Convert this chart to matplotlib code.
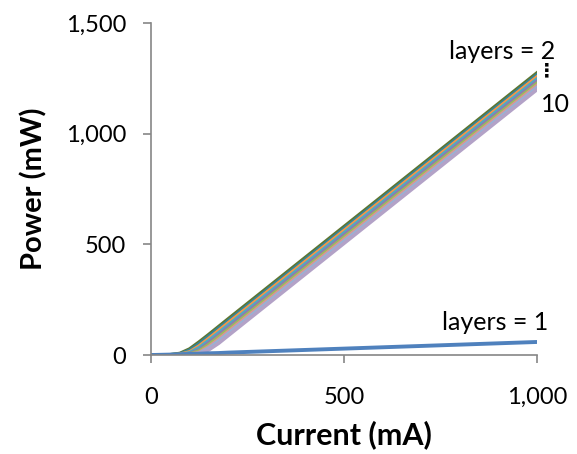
import matplotlib.pyplot as plt
from matplotlib.ticker import FuncFormatter

current = [0, 50, 75, 100, 125, 150, 175, 200, 500, 1000]

layer_1 = [0, 2, 3, 5, 6, 8, 9, 11, 29, 59]
layer_2 = [0, 1, 7, 27, 59, 93, 128, 163, 580, 1275]
layer_3 = [0, 1, 5, 21, 51, 85, 120, 154, 571, 1266]
layer_4 = [0, 0, 3, 14, 41, 75, 110, 145, 562, 1257]
layer_5 = [0, 0, 1.6, 10, 33, 66, 100, 135, 552, 1247]
layer_6 = [0, 0, 1, 6, 23, 56, 90, 125, 542, 1237]
layer_7 = [0, 0, 0.5, 4, 18, 47, 81, 115, 532, 1227]
layer_8 = [0, 0, 0, 2, 12, 38, 71, 106, 523, 1218]
layer_9 = [0, 0, 0, 1.2, 8, 31, 63, 97, 514, 1209]
layer_10 = [0, 0, 0, 1, 5, 24, 53, 88, 505, 1200]

multi_layers = [layer_2, layer_3, layer_4, layer_5, layer_6, layer_7, layer_8, layer_9, layer_10]
multi_colors = ['#5F7530', '#31859C', '#F79646', '#4BACC6', '#8C7BB0',
                '#9BBB59', '#D99694', '#95B3D7', '#B3A2C7']

x_ticks = [0, 500, 1000]
y_ticks = [0, 500, 1000, 1500]

plt.rcParams['font.family'] = ['Lato', 'DejaVu Sans']

fig = plt.figure(figsize=(5.77, 4.54), dpi=100)
ax = fig.add_axes([0.2617, 0.218, 0.669, 0.731])

# later series sit on top, like the spreadsheet chart
for vals, col in zip(multi_layers, multi_colors):
    ax.plot(current, vals, color=col, lw=2.6, solid_joinstyle='round')
ax.plot(current, layer_1, color='#4F81BD', lw=2.8)

ax.set_xlim(0, 1000)
ax.set_ylim(0, 1500)
ax.set_xticks(x_ticks)
ax.set_yticks(y_ticks)
fmt = FuncFormatter(lambda v, p: f'{int(v):,}')
ax.xaxis.set_major_formatter(fmt)
ax.yaxis.set_major_formatter(fmt)

for s in ['top', 'right']:
    ax.spines[s].set_visible(False)
for s in ['left', 'bottom']:
    ax.spines[s].set_color('#868686')
    ax.spines[s].set_linewidth(1.2)
ax.tick_params(colors='#868686', labelcolor='black', length=6, width=1.2, labelsize=17)
ax.tick_params(axis='x', pad=17)
ax.tick_params(axis='y', pad=12)

ax.set_xlabel('Current (mA)', fontsize=22, fontweight='bold', labelpad=9)
ax.set_ylabel('Power (mW)', fontsize=21, fontweight='bold', labelpad=13)

ax.text(1047, 1373, 'layers = 2', fontsize=18, ha='right', va='center', clip_on=False)
ax.text(1026, 1285, '\u22ee', fontsize=14, ha='center', va='center', clip_on=False, fontweight='bold',
        family=['DejaVu Sans'])
ax.text(1049, 1133, '10', fontsize=18, ha='center', va='center', clip_on=False)
ax.text(1028, 145, 'layers = 1', fontsize=18, ha='right', va='center', clip_on=False)

fig.savefig('out.png', dpi=100)
